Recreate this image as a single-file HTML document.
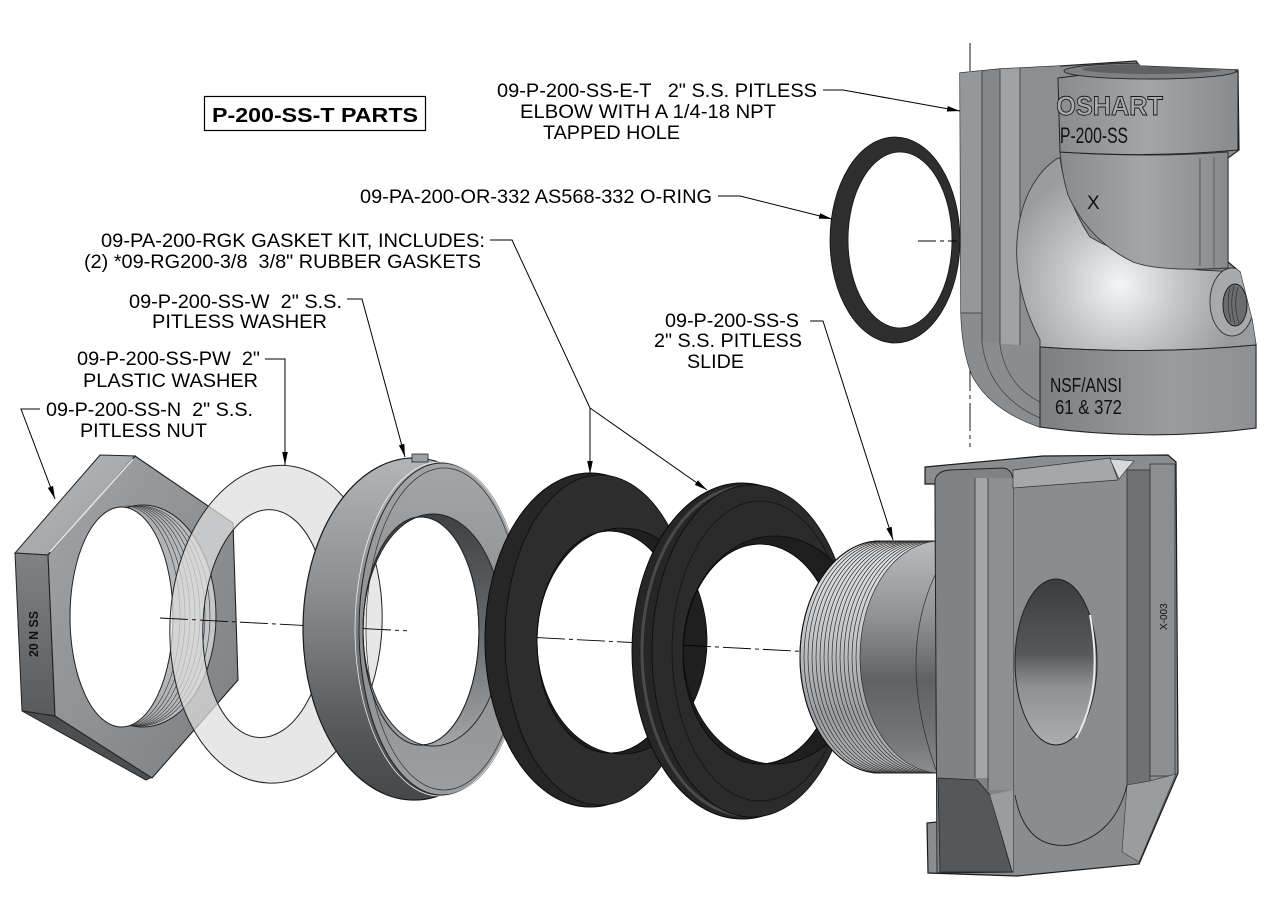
<!DOCTYPE html>
<html><head><meta charset="utf-8">
<style>
html,body{margin:0;padding:0;background:#fff;}
svg{display:block;}
text{font-family:"Liberation Sans",Arial,sans-serif;white-space:pre;}
</style></head><body>
<svg width="1274" height="897" viewBox="0 0 1274 897" xmlns="http://www.w3.org/2000/svg" xml:space="preserve">
<defs>
 <marker id="ah" markerWidth="14" markerHeight="8" refX="13" refY="4" orient="auto" markerUnits="userSpaceOnUse"><path d="M0,1.2 L13,4 L0,6.8 Z" fill="#000"/></marker>
 <linearGradient id="gNutFront" x1="0" y1="0" x2="1" y2="1"><stop offset="0" stop-color="#a2a5a8"/><stop offset="1" stop-color="#7c7f82"/></linearGradient>
 <linearGradient id="gNutTop" x1="0" y1="0" x2="1" y2="1"><stop offset="0" stop-color="#b8bbbe"/><stop offset="1" stop-color="#9a9da0"/></linearGradient>
 <linearGradient id="gNutLeft" x1="0" y1="0" x2="0" y2="1"><stop offset="0" stop-color="#808386"/><stop offset="1" stop-color="#585b5e"/></linearGradient>
 <linearGradient id="gThread" x1="0" y1="0" x2="1" y2="0"><stop offset="0" stop-color="#8c8f92"/><stop offset="1" stop-color="#c6c9cb"/></linearGradient>
 <linearGradient id="gWside" x1="0" y1="0" x2="0" y2="1"><stop offset="0" stop-color="#b3b6b9"/><stop offset="0.4" stop-color="#8a8d90"/><stop offset="0.8" stop-color="#55585b"/><stop offset="1" stop-color="#45484b"/></linearGradient>
 <linearGradient id="gWface" x1="0" y1="0" x2="0" y2="1"><stop offset="0" stop-color="#a3a6a9"/><stop offset="0.5" stop-color="#8c8f92"/><stop offset="1" stop-color="#9c9fa2"/></linearGradient>
 <linearGradient id="gWwall" x1="0" y1="0" x2="0" y2="1"><stop offset="0" stop-color="#3e4144"/><stop offset="0.5" stop-color="#676a6d"/><stop offset="1" stop-color="#a3a6a9"/></linearGradient>
 <linearGradient id="gCyl" x1="0" y1="0" x2="0" y2="1"><stop offset="0" stop-color="#b9bcbf"/><stop offset="0.35" stop-color="#8d9093"/><stop offset="0.6" stop-color="#5f6265"/><stop offset="0.85" stop-color="#737679"/><stop offset="1" stop-color="#8a8d90"/></linearGradient>
 <linearGradient id="gThr" x1="0" y1="0" x2="0" y2="1"><stop offset="0" stop-color="#e4e6e8"/><stop offset="0.4" stop-color="#c4c7ca"/><stop offset="0.75" stop-color="#9c9fa2"/><stop offset="1" stop-color="#b5b8bb"/></linearGradient>
 <linearGradient id="gBore" x1="0" y1="0" x2="0" y2="1"><stop offset="0" stop-color="#3a3d40"/><stop offset="0.45" stop-color="#56595c"/><stop offset="0.65" stop-color="#8f9295"/><stop offset="1" stop-color="#abaeb1"/></linearGradient>
 <radialGradient id="gBend" cx="1120" cy="285" r="120" gradientUnits="userSpaceOnUse"><stop offset="0" stop-color="#f4f5f6"/><stop offset="0.5" stop-color="#c3c6c9"/><stop offset="1" stop-color="#9a9da0"/></radialGradient>
 <linearGradient id="gElbTop" x1="0" y1="0" x2="1" y2="0"><stop offset="0" stop-color="#898c8f"/><stop offset="0.5" stop-color="#a3a6a9"/><stop offset="1" stop-color="#888b8e"/></linearGradient>
 <linearGradient id="gElbBot" x1="0" y1="0" x2="1" y2="0"><stop offset="0" stop-color="#7d8083"/><stop offset="0.6" stop-color="#9a9da0"/><stop offset="1" stop-color="#8d9093"/></linearGradient>
 <clipPath id="elbClip"><path d="M960,73 L1000,69 L1060,66 L1136,61 L1140,66 L1238,70 L1239,150 L1228,158 L1228,262 L1240,272 L1252,320 L1256,345 L1256,428 Q1150,442 1040,427 Q990,410 972,375 Q962,350 961,313 Z"/></clipPath>
 <clipPath id="bandClip"><rect x="1057" y="60" width="190" height="100"/></clipPath>
</defs>
<rect width="1274" height="897" fill="#fff"/>

<!-- Title -->
<rect x="204.5" y="96.5" width="221" height="34" fill="none" stroke="#000" stroke-width="1.2"/>
<text x="212" y="122" font-size="20" font-weight="bold" textLength="206" lengthAdjust="spacingAndGlyphs">P-200-SS-T PARTS</text>

<!-- Labels -->
<g font-size="19" fill="#000">
 <text x="497" y="97" textLength="320" lengthAdjust="spacingAndGlyphs">09-P-200-SS-E-T   2" S.S. PITLESS</text>
 <text x="520" y="118" textLength="256" lengthAdjust="spacingAndGlyphs">ELBOW WITH A 1/4-18 NPT</text>
 <text x="543" y="139" textLength="137" lengthAdjust="spacingAndGlyphs">TAPPED HOLE</text>
 <text x="360" y="203" textLength="352" lengthAdjust="spacingAndGlyphs">09-PA-200-OR-332 AS568-332 O-RING</text>
 <text x="101" y="247" textLength="384" lengthAdjust="spacingAndGlyphs">09-PA-200-RGK GASKET KIT, INCLUDES:</text>
 <text x="84" y="268" textLength="397" lengthAdjust="spacingAndGlyphs">(2) *09-RG200-3/8  3/8" RUBBER GASKETS</text>
 <text x="129" y="308" textLength="213" lengthAdjust="spacingAndGlyphs">09-P-200-SS-W  2" S.S.</text>
 <text x="152" y="328" textLength="175" lengthAdjust="spacingAndGlyphs">PITLESS WASHER</text>
 <text x="77" y="365" textLength="183" lengthAdjust="spacingAndGlyphs">09-P-200-SS-PW  2"</text>
 <text x="83" y="387" textLength="175" lengthAdjust="spacingAndGlyphs">PLASTIC WASHER</text>
 <text x="46" y="416" textLength="207" lengthAdjust="spacingAndGlyphs">09-P-200-SS-N  2" S.S.</text>
 <text x="80" y="437" textLength="127" lengthAdjust="spacingAndGlyphs">PITLESS NUT</text>
 <text x="665" y="327" textLength="134" lengthAdjust="spacingAndGlyphs">09-P-200-SS-S</text>
 <text x="654" y="347" textLength="148" lengthAdjust="spacingAndGlyphs">2" S.S. PITLESS</text>
 <text x="687" y="368" textLength="57" lengthAdjust="spacingAndGlyphs">SLIDE</text>
</g>

<!-- Elbow centerline -->
<line x1="970" y1="43" x2="970" y2="447" stroke="#000" stroke-width="0.9" stroke-dasharray="28 4 4 4"/>

<!-- ELBOW -->
<path d="M960,73 L1000,69 L1060,66 L1136,61 L1140,66 L1238,70 L1239,150 L1228,158 L1228,262 L1240,272 L1252,320 L1256,345 L1256,428 Q1150,442 1040,427 Q990,410 972,375 Q962,350 961,313 Z" fill="#8a8d90" stroke="#222" stroke-width="1.2"/>
<g clip-path="url(#elbClip)">
 <rect x="960" y="60" width="22" height="255" fill="#95989b"/>
 <rect x="982" y="60" width="18" height="282" fill="#85888b"/>
 <rect x="1000" y="60" width="20" height="290" fill="#a0a3a6"/>
 <rect x="1020" y="60" width="40" height="290" fill="#8c8f92"/>
 <path d="M961,313 L982,313 L983,342 L1040,347 L1040,430 L960,430 Z" fill="#8a8d90"/>
 <path d="M982,342 Q988,395 1040,418" fill="none" stroke="#444" stroke-width="0.8"/>
 <path d="M1000,345 Q1006,385 1040,402" fill="none" stroke="#444" stroke-width="0.8"/>
 <g stroke="#333" stroke-width="0.8">
  <line x1="982" y1="70" x2="982" y2="342"/><line x1="1000" y1="68" x2="1000" y2="345"/><line x1="1020" y1="68" x2="1020" y2="345"/>
  <line x1="961" y1="313" x2="982" y2="313"/>
 </g>
 <!-- bend surface -->
 <path d="M1058,158 C1015,185 1000,265 1040,340 L1040,347 Q1150,355 1256,345 L1256,300 L1240,272 L1200,270 Q1133,262 1090,237 Q1066,200 1060,158 Z" fill="url(#gBend)" stroke="#333" stroke-width="0.9"/>
 <!-- upper straight section -->
 <path d="M1060,152 Q1150,158 1228,152 L1228,268 Q1160,272 1133,262 Q1088,240 1068,195 Q1062,175 1060,152 Z" fill="url(#gElbTop)" stroke="#333" stroke-width="0.9"/>
 <line x1="1200" y1="158" x2="1200" y2="266" stroke="#444" stroke-width="0.8"/>
 <line x1="1214" y1="157" x2="1214" y2="268" stroke="#555" stroke-width="0.8"/>
 <!-- top band -->
 <path d="M1058,78 Q1148,66 1238,72 L1238,150 Q1150,158 1060,152 Z" fill="url(#gElbTop)" stroke="#222" stroke-width="1"/>
 <ellipse cx="1150" cy="71" rx="86" ry="8" fill="#7e8184" stroke="#222" stroke-width="0.9"/>
 <ellipse cx="1152" cy="69" rx="70" ry="5" fill="#5e6164"/>
 <!-- bottom band -->
 <path d="M1040,347 Q1150,355 1256,345 L1256,428 Q1150,442 1040,427 Z" fill="url(#gElbBot)" stroke="#222" stroke-width="1"/>
 <!-- boss -->
 <ellipse cx="1232" cy="302" rx="22" ry="34" fill="#a7aaad" stroke="#333" stroke-width="0.9"/>
 <ellipse cx="1235" cy="305" rx="12" ry="21" fill="#6a6d70" stroke="#222" stroke-width="1"/>
 <g fill="none" stroke="#2a2a2a" stroke-width="0.6">
  <path d="M1230,288 Q1226,305 1231,322"/><path d="M1234,286 Q1229,305 1235,324"/><path d="M1238,287 Q1233,305 1239,323"/>
 </g>
</g>
<g clip-path="url(#bandClip)">
 <text x="1038" y="115" font-size="27" font-weight="bold" fill="#a9acaf" stroke="#1a1a1a" stroke-width="0.9" textLength="125" lengthAdjust="spacingAndGlyphs">BOSHART</text>
</g>
<text x="1060" y="143" font-size="22" fill="#111" textLength="68" lengthAdjust="spacingAndGlyphs">P-200-SS</text>
<text x="1087" y="209" font-size="19" fill="#111">X</text>
<text x="1050" y="392" font-size="20" fill="#111" textLength="72" lengthAdjust="spacingAndGlyphs">NSF/ANSI</text>
<text x="1055" y="414" font-size="20" fill="#111" textLength="67" lengthAdjust="spacingAndGlyphs">61 &amp; 372</text>

<!-- O-ring -->
<path fill-rule="evenodd" d="M830,240 a65,103 0 1,0 130,0 a65,103 0 1,0 -130,0 Z M848,240 a52,88 0 1,0 104,0 a52,88 0 1,0 -104,0 Z" fill="#2e2e2e" stroke="#111" stroke-width="0.8"/>
<line x1="918" y1="241" x2="957" y2="241" stroke="#000" stroke-width="0.9" stroke-dasharray="18 4 4 4"/>

<!-- NUT -->
<polygon points="100,455 135,456 48,555 15,553" fill="url(#gNutTop)" stroke="#222" stroke-width="1"/>
<polygon points="15,553 48,555 55,716 22,711" fill="url(#gNutLeft)" stroke="#222" stroke-width="1"/>
<polygon points="22,711 55,716 152,777 146,780" fill="#4c4f52" stroke="#222" stroke-width="1"/>
<polygon points="135,456 233,523 238,680 152,778 55,716 48,555" fill="url(#gNutFront)" stroke="#222" stroke-width="1.1"/>
<line x1="133" y1="459" x2="50" y2="552" stroke="#e6e7e8" stroke-width="1.5"/>
<ellipse cx="143" cy="616" rx="73" ry="111" fill="url(#gThread)" stroke="#222" stroke-width="1"/>
<g fill="none" stroke="#333" stroke-width="0.6">
 <path d="M125,506 A55,110 0 0 1 125,726"/><path d="M127.5,506 A57.5,110 0 0 1 127.5,726"/><path d="M130,506 A60,110 0 0 1 130,726"/><path d="M132.5,506 A62.5,110 0 0 1 132.5,726"/><path d="M135,506 A65,110 0 0 1 135,726"/><path d="M137.5,506 A67.5,110 0 0 1 137.5,726"/><path d="M140,506 A70,110 0 0 1 140,726"/>
</g>
<ellipse cx="121.5" cy="617" rx="51.5" ry="110" fill="#fff" stroke="#222" stroke-width="1"/>
<text transform="translate(38,657) rotate(-90)" font-size="13" font-weight="bold" fill="#111" textLength="46" lengthAdjust="spacingAndGlyphs">20 N SS</text>

<!-- PLASTIC WASHER -->
<g transform="rotate(3 272 624)">
 <path fill-rule="evenodd" d="M170,624 a106,159 0 1,0 212,0 a106,159 0 1,0 -212,0 Z M203,624 a62,114 0 1,0 124,0 a62,114 0 1,0 -124,0 Z" fill="#dedede" fill-opacity="0.72" stroke="#222" stroke-width="1"/>
</g>

<!-- S.S. WASHER (W ring) -->
<path fill-rule="evenodd" d="M303,629 a111,171 0 1,0 222,0 a111,171 0 1,0 -222,0 Z M363,631 a58,114 0 1,0 116,0 a58,114 0 1,0 -116,0 Z" fill="url(#gWside)" stroke="#1a1a1a" stroke-width="1.2"/>
<path fill-rule="evenodd" d="M359,629 a83,166 0 1,0 166,0 a83,166 0 1,0 -166,0 Z M363,631 a58,114 0 1,0 116,0 a58,114 0 1,0 -116,0 Z" fill="url(#gWface)" stroke="#222" stroke-width="1"/>
<ellipse cx="444" cy="629" rx="78" ry="161" fill="none" stroke="#333" stroke-width="0.7"/>
<ellipse cx="440" cy="629" rx="85" ry="167" fill="none" stroke="#eee" stroke-width="0.8"/>
<path fill-rule="evenodd" d="M363,630 a70,116 0 1,0 140,0 a70,116 0 1,0 -140,0 Z M363,631 a58,114 0 1,0 116,0 a58,114 0 1,0 -116,0 Z" fill="url(#gWwall)" stroke="#222" stroke-width="0.9"/>
<rect x="412" y="454" width="16" height="8" fill="#9ea1a4" stroke="#222" stroke-width="0.8"/>

<!-- GASKET 1 -->
<path fill-rule="evenodd" d="M485,640 a105,167 0 1,0 210,0 a105,167 0 1,0 -210,0 Z M537,642 a73,111 0 1,0 146,0 a73,111 0 1,0 -146,0 Z" fill="#262626" stroke="#0a0a0a" stroke-width="1"/>
<path fill-rule="evenodd" d="M505,640 a95,165 0 1,0 190,0 a95,165 0 1,0 -190,0 Z M537,642 a73,111 0 1,0 146,0 a73,111 0 1,0 -146,0 Z" fill="#2d2d2d" stroke="#0a0a0a" stroke-width="0.8"/>
<path fill-rule="evenodd" d="M537,641 a85,113 0 1,0 170,0 a85,113 0 1,0 -170,0 Z M537,642 a73,111 0 1,0 146,0 a73,111 0 1,0 -146,0 Z" fill="#1f1f1f" stroke="#0a0a0a" stroke-width="0.8"/>

<!-- GASKET 2 -->
<path fill-rule="evenodd" d="M632,651 a110,168 0 1,0 220,0 a110,168 0 1,0 -220,0 Z M683,654 a77,110 0 1,0 154,0 a77,110 0 1,0 -154,0 Z" fill="#262626" stroke="#0a0a0a" stroke-width="1"/>
<ellipse cx="745" cy="651" rx="103" ry="164" fill="none" stroke="#4a4a4a" stroke-width="3"/>
<path fill-rule="evenodd" d="M652,651 a100,166 0 1,0 200,0 a100,166 0 1,0 -200,0 Z M683,654 a77,110 0 1,0 154,0 a77,110 0 1,0 -154,0 Z" fill="#2b2b2b" stroke="#0a0a0a" stroke-width="0.8"/>
<ellipse cx="760" cy="651" rx="88" ry="150" fill="none" stroke="#111" stroke-width="0.7"/>
<path fill-rule="evenodd" d="M683,650 a92,114 0 1,0 184,0 a92,114 0 1,0 -184,0 Z M683,654 a77,110 0 1,0 154,0 a77,110 0 1,0 -154,0 Z" fill="#1e1e1e" stroke="#0a0a0a" stroke-width="0.8"/>

<!-- SLIDE: threaded cylinder -->
<path d="M880,541 A80,116 0 0 0 880,773 L945,773 L945,541 Z" fill="url(#gCyl)" stroke="#222" stroke-width="1"/>
<path d="M880,541 A80,116 0 0 0 880,773 L940,773 A80,116 0 0 1 940,541 Z" fill="url(#gThr)"/>
<g fill="none" stroke="#2a2a2a" stroke-width="0.7">
 <path d="M880,541 A80,116 0 0 0 880,773"/><path d="M884,541 A80,116 0 0 0 884,773"/><path d="M888,541 A80,116 0 0 0 888,773"/><path d="M892,541 A80,116 0 0 0 892,773"/><path d="M896,541 A80,116 0 0 0 896,773"/><path d="M900,541 A80,116 0 0 0 900,773"/><path d="M904,541 A80,116 0 0 0 904,773"/><path d="M908,541 A80,116 0 0 0 908,773"/><path d="M912,541 A80,116 0 0 0 912,773"/><path d="M916,541 A80,116 0 0 0 916,773"/><path d="M920,541 A80,116 0 0 0 920,773"/><path d="M924,541 A80,116 0 0 0 924,773"/><path d="M928,541 A80,116 0 0 0 928,773"/><path d="M932,541 A80,116 0 0 0 932,773"/><path d="M936,541 A80,116 0 0 0 936,773"/><path d="M940,541 A80,116 0 0 0 940,773"/>
 <path d="M936,573 Q896,657 936,770"/>
</g>
<path d="M880,541 A80,116 0 0 0 880,773" fill="none" stroke="#111" stroke-width="1.1"/>

<!-- SLIDE plate -->
<path d="M925,467 L1043,456 L1168,455 L1176,462 L1178,773 L1139,864 L1017,876 L928,873 L927,823 L937,822 L935,484 L925,484 Z" fill="#8a8d90" stroke="#1a1a1a" stroke-width="1.2"/>
<path d="M935,480 Q937,471 950,470 L1004,468 Q1013,470 1013,482 L1013,872 L937,873 Z" fill="#808386" stroke="#222" stroke-width="0.9"/>
<rect x="975" y="478" width="13" height="300" fill="#a3a6a9"/>
<rect x="988" y="478" width="25" height="312" fill="#8d9093"/>
<line x1="975" y1="478" x2="975" y2="778" stroke="#333" stroke-width="0.8"/>
<line x1="988" y1="478" x2="988" y2="790" stroke="#333" stroke-width="0.8"/>
<polygon points="938,778 977,780 990,795 1012,872 940,872" fill="#55585b" stroke="#222" stroke-width="0.8"/>
<polygon points="990,795 1013,790 1013,872" fill="#9a9da0"/>
<polygon points="1013,470 1110,458 1118,480 1013,488" fill="#a5a8ab" stroke="#333" stroke-width="0.7"/>
<rect x="1127" y="470" width="23" height="315" fill="#6f7275" stroke="#333" stroke-width="0.8"/>
<rect x="1150" y="464" width="25" height="312" fill="#8c8f92" stroke="#333" stroke-width="0.8"/>
<polygon points="1110,459 1119,479 1127,469 1134,461" fill="#d6d8da" stroke="#333" stroke-width="0.6"/>
<polygon points="1127,785 1150,781 1176,774 1139,862 1122,852" fill="#9a9da0" stroke="#333" stroke-width="0.6"/>
<path d="M1015,795 Q1025,850 1070,845 Q1115,835 1127,785" fill="none" stroke="#222" stroke-width="0.9"/>
<ellipse cx="1056" cy="662" rx="41" ry="83" fill="url(#gBore)" stroke="#222" stroke-width="1"/>
<path d="M1090,615 Q1104,690 1076,738" fill="none" stroke="#ececec" stroke-width="2"/>
<text transform="translate(1167,630) rotate(-90)" font-size="10" fill="#111">X-003</text>

<!-- Centerline segments -->
<g stroke="#000" stroke-width="0.9" stroke-dasharray="28 4 4 4" fill="none">
 <line x1="160" y1="618" x2="303" y2="625.4"/>
 <line x1="363" y1="628.6" x2="407" y2="630.8"/>
 <line x1="537" y1="637.6" x2="632" y2="642.5"/>
 <line x1="683" y1="645.2" x2="800" y2="651.3"/>
</g>

<!-- Leaders -->
<g stroke="#000" stroke-width="1" fill="none">
 <path d="M823,90 H843 L960,111" marker-end="url(#ah)"/>
 <path d="M718,196 H740 L832,219" marker-end="url(#ah)"/>
 <path d="M490,240 H512 L590,408"/>
 <path d="M590,408 V474" marker-end="url(#ah)"/>
 <path d="M590,408 L707,490" marker-end="url(#ah)"/>
 <path d="M347,299 H362 L405,457" marker-end="url(#ah)"/>
 <path d="M265,359 H285 V465" marker-end="url(#ah)"/>
 <path d="M40,409 H21 L55,499" marker-end="url(#ah)"/>
 <path d="M810,321 H823 L893,540" marker-end="url(#ah)"/>
</g>
</svg>
</body></html>
